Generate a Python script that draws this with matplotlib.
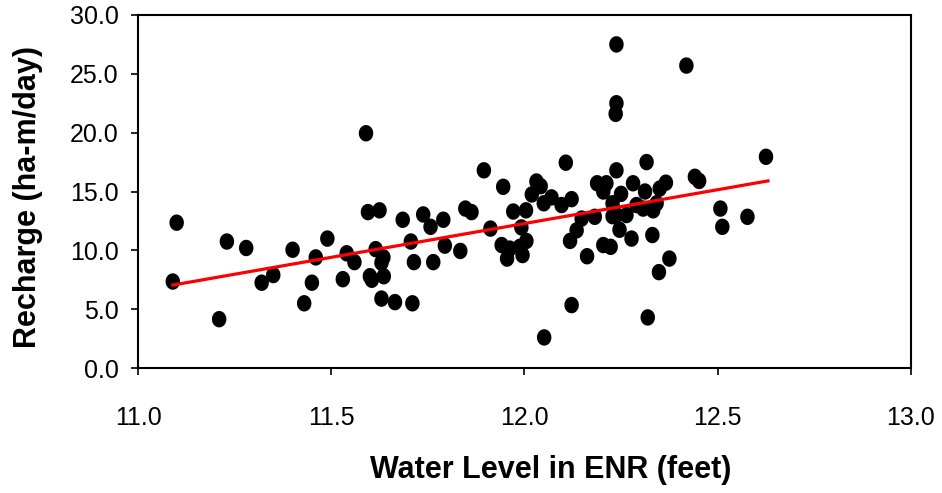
import matplotlib
matplotlib.use('Agg')
import matplotlib.pyplot as plt
import numpy as np

# water level (feet) vs recharge (ha-m/day)
water_level = [
    11.10, 11.09, 11.21, 11.23, 11.28, 11.32, 11.35, 11.40, 11.43, 11.45,
    11.46, 11.49, 11.53, 11.54, 11.56, 11.59, 11.595, 11.625, 11.60, 11.605,
    11.615, 11.635, 11.63, 11.636, 11.63, 11.665, 11.685, 11.71, 11.706, 11.714,
    11.738, 11.757, 11.764, 11.79, 11.794, 11.834, 11.847, 11.863, 11.895, 11.912,
    11.945, 11.941, 11.955, 11.962, 11.971, 11.992, 11.988, 11.995, 12.005, 12.004,
    12.019, 12.031, 12.042, 12.05, 12.07, 12.096, 12.107, 12.122, 12.118, 12.135,
    12.148, 12.182, 12.122, 12.051, 12.162, 12.188, 12.212, 12.204, 12.238, 12.238,
    12.238, 12.236, 12.25, 12.228, 12.238, 12.264, 12.246, 12.204, 12.223, 12.277,
    12.281, 12.312, 12.29, 12.307, 12.316, 12.342, 12.333, 12.35, 12.366, 12.331,
    12.348, 12.375, 12.319, 12.419, 12.441, 12.452, 12.507, 12.512, 12.577, 12.625,
    12.228,
]
recharge = [
    12.35, 7.35, 4.15, 10.75, 10.2, 7.25, 7.9, 10.05, 5.5, 7.25,
    9.4, 11.0, 7.55, 9.75, 9.0, 19.95, 13.25, 13.4, 7.8, 7.5,
    10.1, 9.4, 8.95, 7.8, 5.9, 5.6, 12.6, 5.5, 10.75, 9.0,
    13.05, 12.0, 9.0, 12.6, 10.4, 9.95, 13.55, 13.25, 16.8, 11.85,
    15.4, 10.45, 9.3, 10.15, 13.3, 11.95, 10.3, 9.6, 10.8, 13.4,
    14.75, 15.85, 15.45, 14.0, 14.5, 13.85, 17.45, 14.35, 10.8, 11.7,
    12.7, 12.85, 5.35, 2.6, 9.5, 15.7, 15.7, 15.0, 16.8, 27.5,
    22.5, 21.6, 14.8, 14.0, 13.0, 13.0, 11.75, 10.45, 10.3, 11.0,
    15.7, 15.0, 13.85, 13.55, 17.5, 14.0, 13.4, 15.25, 15.75, 11.3,
    8.15, 9.3, 4.3, 25.7, 16.25, 15.9, 13.55, 12.0, 12.85, 17.95,
    12.9,
]

# linear trend line end points as drawn
trend_x = [11.09, 12.63]
trend_y = [7.05, 15.9]

x_ticks = [11.0, 11.5, 12.0, 12.5, 13.0]
y_ticks = [0, 5, 10, 15, 20, 25, 30]

plt.rcParams['font.family'] = ['Liberation Sans', 'DejaVu Sans']

# dots in the original are slightly taller than wide
t = np.linspace(0, 2 * np.pi, 60)
oval = np.column_stack([0.44 * np.cos(t), 0.5 * np.sin(t)])

fig = plt.figure(figsize=(9.42, 4.93), dpi=100)
ax = fig.add_axes([0.1465, 0.2535, 0.8205, 0.7161])

ax.scatter(water_level, recharge, s=140, c='black', marker=oval,
           edgecolors='none', zorder=2)
ax.plot(trend_x, trend_y, color='red', linewidth=2.3, zorder=3)

ax.set_xlim(11.0, 13.0)
ax.set_ylim(0, 30)
ax.set_xticks(x_ticks)
ax.set_yticks(y_ticks)
ax.set_xticklabels([f"{v:.1f}" for v in x_ticks])
ax.set_yticklabels([f"{v:.1f}" for v in y_ticks])

for s in ax.spines.values():
    s.set_linewidth(1.5)
ax.tick_params(axis='x', direction='out', length=5, width=1.2, labelsize=18, pad=22)
ax.tick_params(axis='y', direction='out', length=5, width=1.2, labelsize=18, pad=9)

fig.text(0.585, 0.047, "Water Level in ENR (feet)", fontsize=22, fontweight='bold',
         ha='center', va='center')
fig.text(0.030, 0.60, "Recharge (ha-m/day)", fontsize=22, fontweight='bold',
         ha='center', va='center', rotation=90)

fig.savefig('out.png', dpi=100)
